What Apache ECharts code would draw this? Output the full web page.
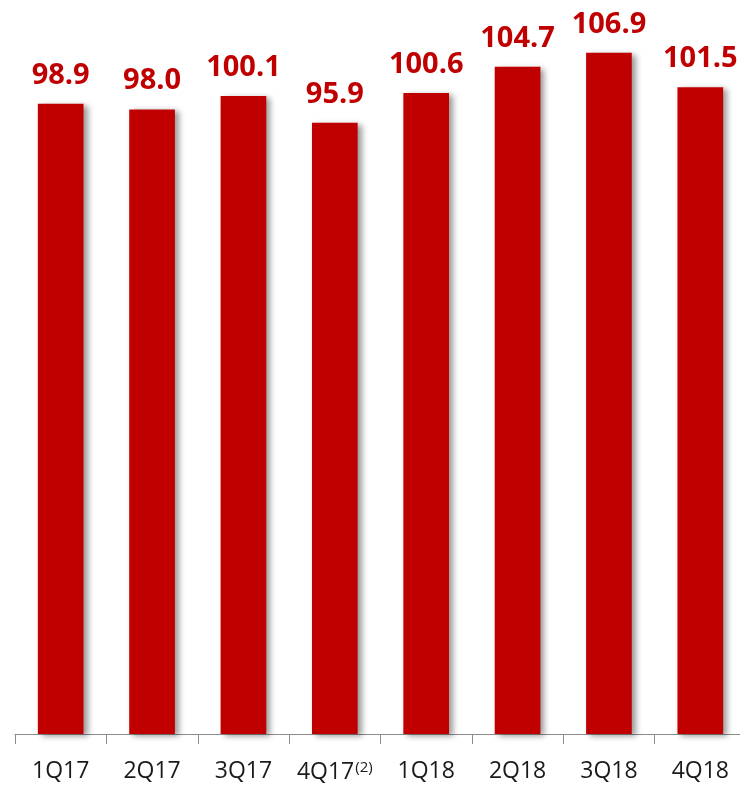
<!DOCTYPE html>
<html>
<head>
<meta charset="utf-8">
<script src="https://cdn.jsdelivr.net/npm/echarts@6/dist/echarts.min.js"></script>
<style>
html,body{margin:0;padding:0;background:#fff;}
#chart{width:740px;height:789px;}
</style>
</head>
<body>
<div id="chart"></div>
<script>
const categories = ['1Q17', '2Q17', '3Q17', '4Q17', '1Q18', '2Q18', '3Q18', '4Q18'];
const values = [98.9, 98.0, 100.1, 95.9, 100.6, 104.7, 106.9, 101.5];
const footnotes = { '4Q17': '(2)' };

const chart = echarts.init(document.getElementById('chart'));
chart.setOption({
  animation: false,
  grid: { left: 15, width: 731, top: 33, height: 701, containLabel: false, outerBoundsMode: 'none' },
  xAxis: {
    type: 'category',
    data: categories,
    axisLine: { lineStyle: { color: '#8c8c8c', width: 1 } },
    axisTick: { show: true, length: 10, lineStyle: { color: '#8c8c8c' } },
    axisLabel: {
      interval: 0,
      margin: 26,
      formatter: function (v) {
        return footnotes[v] ? '{a|' + v + '}{s|' + footnotes[v] + '}' : '{a|' + v + '}';
      },
      rich: {
        a: { fontFamily: 'Open Sans', fontSize: 23, color: '#1a1a1a' },
        s: { fontFamily: 'Open Sans', fontSize: 15, color: '#1a1a1a', verticalAlign: 'top', padding: [0, 0, 10, 1] }
      }
    }
  },
  yAxis: {
    type: 'value',
    min: 0,
    max: 110,
    show: false,
    splitLine: { show: false }
  },
  series: [{
    type: 'bar',
    data: values,
    barWidth: '50%',
    itemStyle: {
      color: '#C00000',
      shadowColor: 'rgba(0,0,0,0.4)',
      shadowBlur: 6,
      shadowOffsetX: 4,
      shadowOffsetY: 2
    },
    label: {
      show: true,
      position: 'top',
      distance: 14,
      fontFamily: 'Open Sans',
      fontWeight: 'bold',
      fontSize: 29,
      color: '#C00000',
      formatter: function (p) { return p.value.toFixed(1); }
    }
  }]
});
</script>
</body>
</html>
